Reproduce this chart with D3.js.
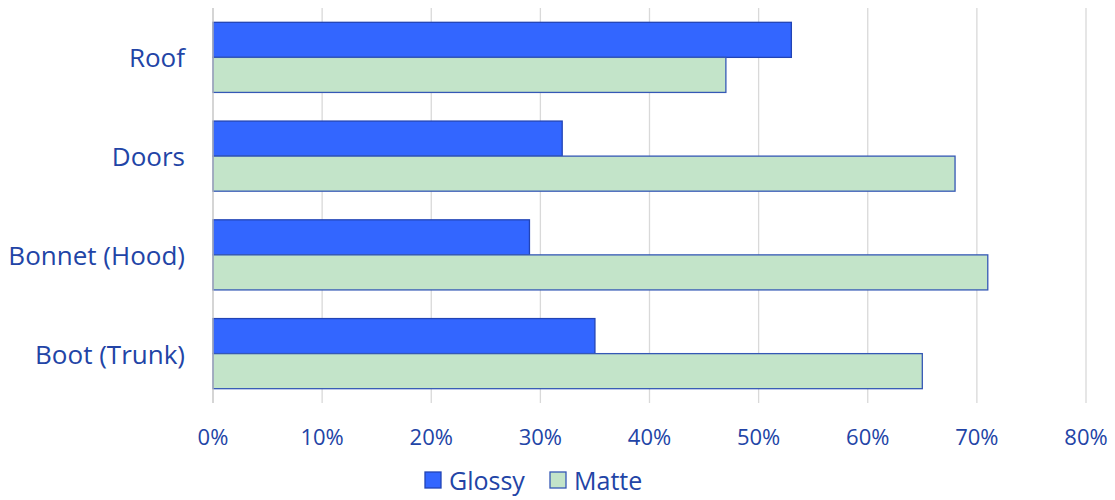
<!DOCTYPE html>
<html><head><meta charset="utf-8">
<script src="https://cdn.jsdelivr.net/npm/d3@7"></script>
<style>body{margin:0;background:#fff}svg{display:block}text{font-family:"Open Sans",Lato,sans-serif}</style>
</head><body><svg id="c" width="1115" height="500"></svg>
<script>
const categories = ["Roof", "Doors", "Bonnet (Hood)", "Boot (Trunk)"];
const glossy = [53, 32, 29, 35];
const matte = [47, 68, 71, 65];
const seriesNames = ["Glossy", "Matte"];
const xTicks = [0, 10, 20, 30, 40, 50, 60, 70, 80];

const svg = d3.select("#c");
const textColor = "#2244A6";
const m = {left: 213, right: 1086, top: 8, bottom: 403};
const x = d3.scaleLinear().domain([0, 80]).range([m.left, m.right]);
const y = d3.scaleBand().domain(categories).range([m.top, m.bottom]).paddingInner(0.29).paddingOuter(0.145);
const sub = d3.scaleBand().domain(seriesNames).range([0, y.bandwidth()]);

// grid
svg.append("g").selectAll("line").data(xTicks.slice(1)).join("line")
  .attr("x1", d => x(d)).attr("x2", d => x(d)).attr("y1", m.top).attr("y2", m.bottom)
  .attr("stroke", "#D9D9D9").attr("stroke-width", 1.3);

const series = [
  {name: "Glossy", values: glossy, fill: "#3366FF", stroke: "#2244B5"},
  {name: "Matte", values: matte, fill: "#C3E4C9", stroke: "#3558B5"}
];
series.forEach(s => {
  svg.append("g").selectAll("rect").data(categories).join("rect")
    .attr("x", x(0))
    .attr("y", (d) => y(d) + sub(s.name))
    .attr("width", (d, i) => x(s.values[i]) - x(0))
    .attr("height", sub.bandwidth())
    .attr("fill", s.fill).attr("stroke", s.stroke).attr("stroke-width", 1.3);
});

// y axis line
svg.append("line").attr("x1", x(0)).attr("x2", x(0)).attr("y1", m.top).attr("y2", m.bottom)
  .attr("stroke", "#BFBFBF").attr("stroke-width", 1.3);

// category labels
svg.append("g").selectAll("text").data(categories).join("text")
  .attr("x", 185).attr("y", d => y(d) + y.bandwidth() / 2)
  .attr("text-anchor", "end").attr("dominant-baseline", "central")
  .attr("fill", textColor).attr("font-size", 26).text(d => d);

// x tick labels
svg.append("g").selectAll("text").data(xTicks).join("text")
  .attr("x", d => x(d)).attr("y", 445)
  .attr("text-anchor", "middle").attr("fill", textColor).attr("font-size", 22)
  .text(d => d + "%");

// legend
const leg = [{name: "Glossy", x: 425, fill: "#3366FF", stroke: "#2244B5"}, {name: "Matte", x: 550, fill: "#C3E4C9", stroke: "#3558B5"}];
const lg = svg.append("g").selectAll("g").data(leg).join("g");
lg.append("rect").attr("x", d => d.x).attr("y", 472).attr("width", 16).attr("height", 16)
  .attr("fill", d => d.fill).attr("stroke", d => d.stroke).attr("stroke-width", 1.3);
lg.append("text").attr("x", d => d.x + 24).attr("y", 490).attr("fill", textColor).attr("font-size", 25).text(d => d.name);
</script></body></html>
